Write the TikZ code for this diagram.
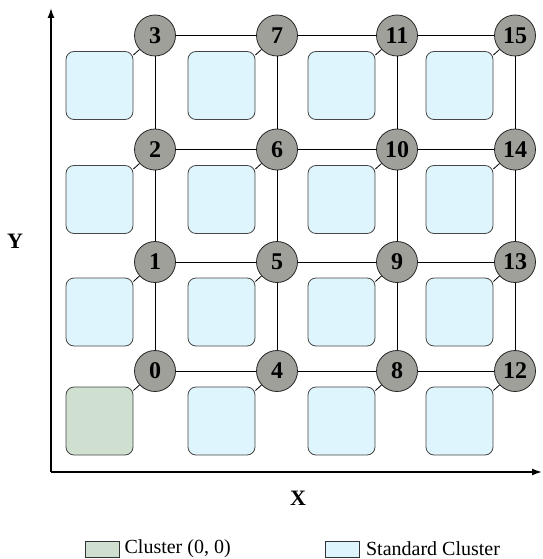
\documentclass[tikz,border=0pt]{standalone}
\usepackage{fontspec}
\setmainfont{Liberation Serif}
\usetikzlibrary{arrows.meta}
\definecolor{routergray}{RGB}{160,160,154}
\definecolor{clusterblue}{RGB}{223,245,253}
\definecolor{clustergreen}{RGB}{207,223,208}
\definecolor{edgegray}{RGB}{70,70,70}
\tikzset{
  router/.style={circle, draw=black!85, line width=0.8pt, fill=routergray, minimum size=41pt, inner sep=0pt,
    font=\fontsize{24}{24}\selectfont\bfseries},
  cluster/.style={draw=edgegray, line width=0.8pt, rounded corners=8pt, minimum width=67pt, minimum height=68pt, inner sep=0pt},
  legendbox/.style={draw=black!80, line width=0.8pt, minimum width=34pt, minimum height=16pt, inner sep=0pt},
  link/.style={draw=black, line width=0.8pt},
  axislabel/.style={font=\fontsize{22}{22}\selectfont\bfseries},
}
\begin{document}
\begin{tikzpicture}[x=1pt,y=-1pt]
\useasboundingbox (0,0) rectangle (542,559);
% axes
\coordinate (o) at (51,472);
\coordinate (ytip) at (51,8);
\coordinate (xtip) at (542,472);
\draw[line width=1.6pt, -{Latex[length=10pt,width=7pt]}] (o) -- (ytip);
\draw[line width=1.6pt, -{Latex[length=10pt,width=7pt]}] (o) -- (xtip);
\node[axislabel] (ylab) at (15,241) {Y};
\node[axislabel] (xlab) at (298,498) {X};
% routers and clusters
\foreach \i/\x in {0/155,1/277,2/397,3/515}
  \foreach \j/\y in {0/371,1/262,2/149.5,3/35.5} {
    \pgfmathtruncatemacro\n{4*\i+\j}
    \ifnum\n=0 \def\cfill{clustergreen}\else\def\cfill{clusterblue}\fi
    \node[cluster, fill=\cfill] (c\n) at (\x-55.5,\y+50) {};
    \node[router] (r\n) at (\x,\y) {\n};
  }
% links
\foreach \n in {0,...,15}
  \draw[link] (r\n) -- (c\n);
\foreach \i in {0,1,2}
  \foreach \j in {0,1,2,3} {
    \pgfmathtruncatemacro\a{4*\i+\j}
    \pgfmathtruncatemacro\b{4*\i+\j+4}
    \draw[link] (r\a) -- (r\b);
  }
\foreach \i in {0,1,2,3}
  \foreach \j in {0,1,2} {
    \pgfmathtruncatemacro\a{4*\i+\j}
    \pgfmathtruncatemacro\b{4*\i+\j+1}
    \draw[link] (r\a) -- (r\b);
  }
% legend
\node[legendbox, fill=clustergreen] (lgreen) at (102,549) {};
\node[anchor=west, inner sep=0pt, font=\fontsize{20}{20}\selectfont] (tgreen) at ([xshift=5pt]lgreen.east) {Cluster (0, 0)};
\node[legendbox, fill=clusterblue] (lblue) at (342.5,549) {};
\node[anchor=west, inner sep=0pt, font=\fontsize{20}{20}\selectfont] (tblue) at ([xshift=6pt]lblue.east) {Standard Cluster};
\end{tikzpicture}
\end{document}
